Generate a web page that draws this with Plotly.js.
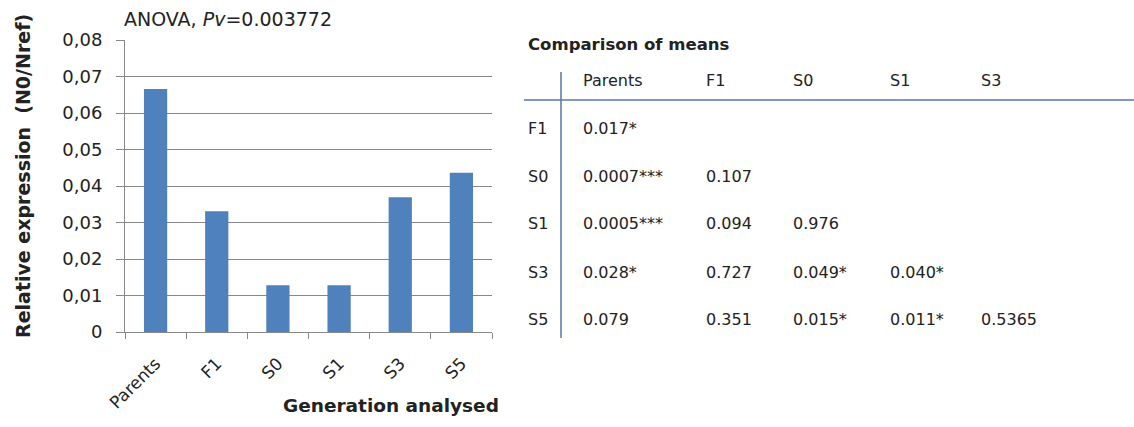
<!DOCTYPE html>
<html><head><meta charset="utf-8">
<script src="https://cdn.plot.ly/plotly-3.0.1.min.js"></script>
<style>html,body{margin:0;padding:0;background:#fff}</style>
</head><body><div id="chart" style="width:1134px;height:427px"></div>
<script>
// Bar chart data
const generations = ["Parents", "F1", "S0", "S1", "S3", "S5"];
const relExpression = [0.0666, 0.0331, 0.0128, 0.0128, 0.0369, 0.0436];
const yTicks = [0, 0.01, 0.02, 0.03, 0.04, 0.05, 0.06, 0.07, 0.08];
const yTickText = ["0", "0,01", "0,02", "0,03", "0,04", "0,05", "0,06", "0,07", "0,08"];

// Comparison of means table
const tableTitle = "Comparison of means";
const colHeaders = ["Parents", "F1", "S0", "S1", "S3"];
const rowHeaders = ["F1", "S0", "S1", "S3", "S5"];
const pParents = ["0.017*", "0.0007***", "0.0005***", "0.028*", "0.079"];
const pF1 = ["", "0.107", "0.094", "0.727", "0.351"];
const pS0 = ["", "", "0.976", "0.049*", "0.015*"];
const pS1 = ["", "", "", "0.040*", "0.011*"];
const pS3 = ["", "", "", "", "0.5365"];
const pColumns = [pParents, pF1, pS0, pS1, pS3];

const L = 125, R = 492, T = 40, B = 332;
const fx = px => (px - L) / (R - L);
const fy = py => (B - py) / (B - T);
const FONT = "DejaVu Sans";
const txt = "#222";
const TS = 16;

const annotations = [];
annotations.push({xref:"paper", yref:"paper", x:fx(122), y:fy(19), xanchor:"left", yanchor:"middle",
  text:"ANOVA, <i>Pv</i>=0.003772", showarrow:false, font:{family:FONT, size:19, color:txt}});
annotations.push({xref:"paper", yref:"paper", x:fx(501), y:fy(405), xanchor:"right", yanchor:"middle",
  text:"<b>Generation analysed</b>", showarrow:false, font:{family:FONT, size:18.5, color:txt}});
annotations.push({xref:"paper", yref:"paper", x:fx(23), y:fy(176), xanchor:"center", yanchor:"middle",
  textangle:-90, text:"<b>Relative expression  (N0/Nref)</b>", showarrow:false, font:{family:FONT, size:19, color:txt}});

// table
annotations.push({xref:"paper", yref:"paper", x:fx(526), y:fy(44), xanchor:"left", yanchor:"middle",
  text:"<b>" + tableTitle + "</b>", showarrow:false, font:{family:FONT, size:16.5, color:txt}});
const colX = [581, 704, 791, 888, 979];
const rowY = [128, 176, 223, 272, 319];
const headY = 80;
colHeaders.forEach((h, i) => annotations.push({xref:"paper", yref:"paper", x:fx(colX[i]), y:fy(headY),
  xanchor:"left", yanchor:"middle", text:h, showarrow:false, font:{family:FONT, size:TS, color:txt}}));
rowHeaders.forEach((h, j) => annotations.push({xref:"paper", yref:"paper", x:fx(526), y:fy(rowY[j]),
  xanchor:"left", yanchor:"middle", text:h, showarrow:false, font:{family:FONT, size:TS, color:txt}}));
pColumns.forEach((col, i) => col.forEach((v, j) => {
  if (!v) return;
  annotations.push({xref:"paper", yref:"paper", x:fx(colX[i]), y:fy(rowY[j]),
    xanchor:"left", yanchor:"middle", text:v, showarrow:false, font:{family:FONT, size:TS, color:txt}});
}));

const lineCol = "#5777a8";
const shapes = [
  {type:"line", xref:"paper", yref:"paper", x0:fx(561), x1:fx(561), y0:fy(72), y1:fy(338), line:{color:lineCol, width:1.5}},
  {type:"line", xref:"paper", yref:"paper", x0:fx(524), x1:fx(1134), y0:fy(100), y1:fy(100), line:{color:lineCol, width:1.5}}
];

const data = [{
  type:"bar", x:generations, y:relExpression,
  marker:{color:"#4f81bd"}, hoverinfo:"none"
}];

const layout = {
  width:1134, height:427,
  margin:{l:L, r:1134-R, t:T, b:427-B, pad:0},
  paper_bgcolor:"#fff", plot_bgcolor:"#fff",
  showlegend:false,
  bargap:0.62,
  font:{family:FONT, color:txt},
  xaxis:{
    type:"category", tickangle:-45, tickson:"boundaries", ticks:"outside", ticklen:6,
    tickcolor:"#888", showline:true, linecolor:"#888", linewidth:1, showgrid:false,
    ticklabelstandoff:14,
    tickfont:{family:FONT, size:17, color:txt}, fixedrange:true
  },
  yaxis:{
    range:[0, 0.08], tickvals:yTicks, ticktext:yTickText, ticks:"outside", ticklen:8,
    tickcolor:"#888", showline:true, linecolor:"#888", linewidth:1,
    showgrid:true, gridcolor:"#888", gridwidth:1, zeroline:false,
    ticklabelstandoff:10,
    tickfont:{family:FONT, size:18, color:txt}, fixedrange:true
  },
  annotations:annotations,
  shapes:shapes
};
Plotly.newPlot("chart", data, layout, {staticPlot:true});
</script>
</body></html>
